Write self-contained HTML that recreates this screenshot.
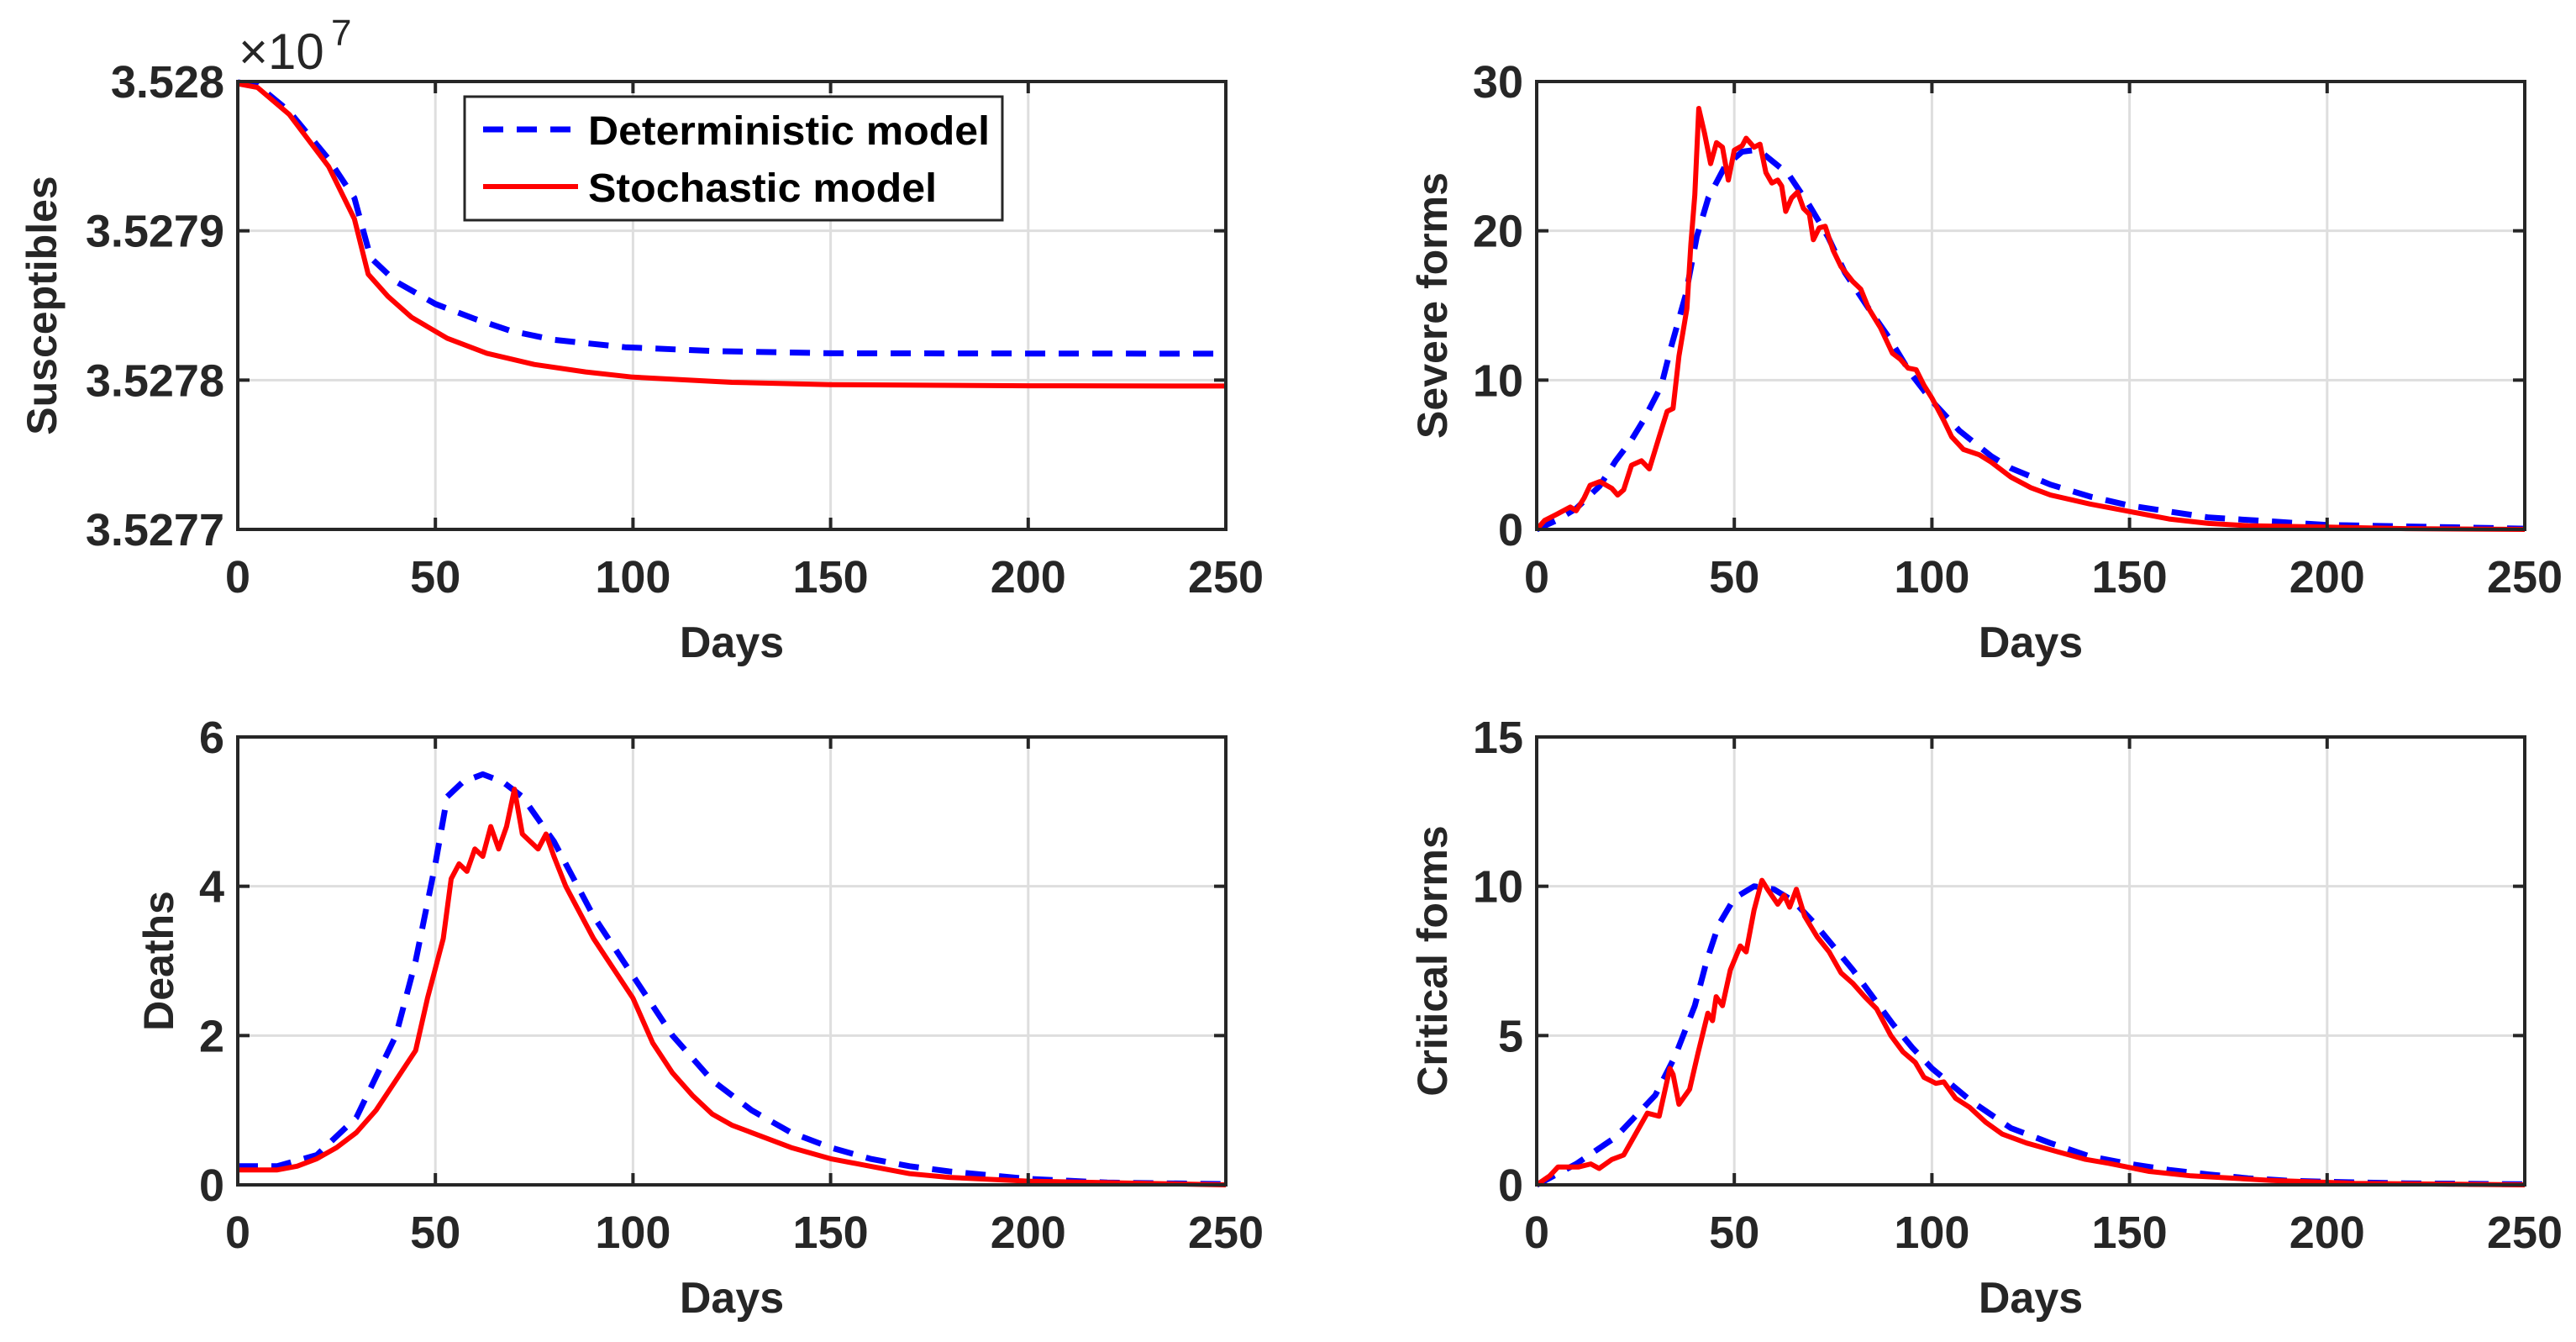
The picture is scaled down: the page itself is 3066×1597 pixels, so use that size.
<!DOCTYPE html>
<html><head><meta charset="utf-8"><style>
html,body{margin:0;padding:0;background:#fff;}
svg{display:block;font-family:"Liberation Sans",Arial,sans-serif;}
</style></head><body>
<svg id="fig" width="3066" height="1597" viewBox="0 0 3066 1597" xmlns="http://www.w3.org/2000/svg"></svg>
<script>
// ---- data ----
const susDetDays = [0,5,13,23,29.5,33.6,40,50,60,69,80,98,120,150,200,250];
const susDetVals = [35279995,35279975,35279800,35279480,35279220,35278820,35278660,35278510,35278410,35278330,35278270,35278220,35278195,35278180,35278178,35278177];
const susStoDays = [0,5,13,23,29.5,33,38,44,53,63,75,88,100,125,150,200,250];
const susStoVals = [35279985,35279960,35279780,35279430,35279080,35278710,35278560,35278420,35278280,35278180,35278105,35278055,35278020,35277985,35277970,35277962,35277960];

const sevDetDays = [0,5,10,15.9,20,24,27,31.5,34,37.7,40.5,43.4,47.6,52,55,57.6,63.7,69,73.7,78,84,89,94.5,100,107,115,120,130,140,150,170,200,250];
const sevDetVals = [0,0.6,1.4,2.9,4.6,6.0,7.3,9.6,12.2,15.7,19.6,22.2,24.3,25.3,25.4,25.1,23.8,21.7,19.6,17.2,14.8,12.9,10.5,8.6,6.6,4.9,4.1,3.0,2.2,1.6,0.8,0.3,0.05];
const sevStoDays = [0,2,5,8.5,10,12,13.5,16,19,20.5,22,24,26.5,28.5,31,33,34.5,36,38,39,40,41,42.5,44,45.5,47,48.5,50,52,53,55,56.5,58,59.5,61,62,63,64.5,66,67.5,69,70,71.5,73,75,77,80,82,84,87,90,92,94,96,98,100,103,105,108,112,115,120,125,130,140,150,160,170,180,200,220,250];
const sevStoVals = [0,0.6,1.0,1.5,1.25,2.1,2.95,3.2,2.75,2.3,2.65,4.3,4.6,4.05,6.2,7.9,8.1,11.6,14.8,19.1,22.4,28.2,26.5,24.5,25.9,25.6,23.4,25.4,25.7,26.2,25.6,25.8,23.9,23.2,23.4,23.0,21.3,22.2,22.6,21.5,21.1,19.4,20.2,20.3,18.7,17.6,16.6,16.1,14.8,13.5,11.8,11.4,10.8,10.7,9.65,8.8,7.3,6.2,5.35,5.0,4.5,3.5,2.8,2.3,1.7,1.2,0.7,0.4,0.25,0.15,0.05,0];

const dthDetDays = [0,10,20,30,40,45,50,53,57,62,67,72,80,90,100,110,120,130,140,150,160,170,180,200,220,250];
const dthDetVals = [0.25,0.25,0.4,0.9,2.0,3.0,4.3,5.2,5.4,5.5,5.4,5.2,4.6,3.6,2.8,2.0,1.4,1.0,0.7,0.5,0.35,0.25,0.18,0.08,0.03,0.01];
const dthStoDays = [0,10,15,20,25,30,35,40,45,48,50,52,54,56,58,60,62,64,66,68,70,72,74,76,78,80,83,86,90,95,100,105,110,115,120,125,130,140,150,160,170,180,200,250];
const dthStoVals = [0.2,0.2,0.25,0.35,0.5,0.7,1.0,1.4,1.8,2.5,2.9,3.3,4.1,4.3,4.2,4.5,4.4,4.8,4.5,4.8,5.3,4.7,4.6,4.5,4.7,4.4,4.0,3.7,3.3,2.9,2.5,1.9,1.5,1.2,0.95,0.8,0.7,0.5,0.35,0.25,0.15,0.1,0.05,0];

const crtDetDays = [0,10,20,30,35,40,43,46,50,55,60,65,70,75,80,85,90,95,100,110,120,130,140,150,160,170,180,190,200,220,250];
const crtDetVals = [0,0.7,1.6,3.0,4.3,6.0,7.5,8.7,9.6,10.0,9.9,9.5,8.8,8.0,7.2,6.3,5.4,4.6,3.9,2.8,1.9,1.4,0.95,0.7,0.5,0.35,0.22,0.14,0.1,0.05,0.02];
const crtStoDays = [0,3.3,5.4,10.6,13.7,15.8,19,22,25,28,31,33.7,34.5,36,38.7,40.8,43.3,44.5,45.4,47,49,51.5,53,55,57,58.4,61,62.6,64,65.7,67.8,71,74,77,80,83,86,89.6,92.7,95.8,98,101,103,106,109.5,113.6,117.8,124,132,138.6,144.8,155,165.6,186,207,250];
const crtStoVals = [0,0.3,0.6,0.6,0.7,0.55,0.85,1.0,1.7,2.4,2.3,3.9,3.7,2.7,3.2,4.4,5.75,5.5,6.3,6.0,7.2,8.0,7.8,9.2,10.2,9.9,9.4,9.7,9.3,9.9,9.0,8.3,7.8,7.1,6.75,6.3,5.9,5.0,4.45,4.1,3.6,3.4,3.45,2.9,2.6,2.1,1.7,1.4,1.1,0.86,0.72,0.45,0.3,0.15,0.05,0];

const xTicks = [0,50,100,150,200,250];
const susTicks = [35277000,35278000,35279000,35280000];
const susTickLabels = ["3.5277","3.5278","3.5279","3.528"];
const sevTicks = [0,10,20,30];
const dthTicks = [0,2,4,6];
const crtTicks = [0,5,10,15];

// ---- drawing ----
const NS = "http://www.w3.org/2000/svg";
const svg = document.getElementById('fig');
function mk(tag, attrs, parent){
  const e = document.createElementNS(NS, tag);
  for (const k in attrs) e.setAttribute(k, attrs[k]);
  (parent||svg).appendChild(e);
  return e;
}
function panel(cfg){
  const g = mk('g', {});
  
  
  const L=cfg.x0, R=cfg.x1, T=cfg.y0, B=cfg.y1;
  const sx = d => L + (d - 0) / 250 * (R - L);
  const sy = v => B - (v - cfg.ymin) / (cfg.ymax - cfg.ymin) * (B - T);
  xTicks.forEach(t => {
    const l = mk('line', {x1:sx(t), x2:sx(t), y1:T, y2:B, stroke:'#dedede', 'stroke-width':3}, g);
    
    
  });
  cfg.ticks.forEach(t => {
    const l = mk('line', {x1:L, x2:R, y1:sy(t), y2:sy(t), stroke:'#dedede', 'stroke-width':3}, g);
    
    
  });
  const series = [
    {d:cfg.detD, v:cfg.detV, color:'#0000ff', w:7, dash:'24 16', name:'deterministic-line'},
    {d:cfg.stoD, v:cfg.stoV, color:'#ff0000', w:6, dash:null, name:'stochastic-line'}
  ];
  series.forEach(s => {
    const pts = s.d.map((d,i) => sx(d).toFixed(1) + ',' + sy(s.v[i]).toFixed(1)).join(' ');
    const a = {points:pts, fill:'none', stroke:s.color, 'stroke-width':s.w, 'stroke-linejoin':'round'};
    if (s.dash) a['stroke-dasharray'] = s.dash;
    const p = mk('polyline', a, g);
    
    
  });
  xTicks.forEach(t => {
    mk('line', {x1:sx(t), x2:sx(t), y1:B, y2:B-14, stroke:'#262626', 'stroke-width':4}, g);
    mk('line', {x1:sx(t), x2:sx(t), y1:T, y2:T+14, stroke:'#262626', 'stroke-width':4}, g);
    const tx = mk('text', {x:sx(t), y:B+75, 'font-size':54, 'font-weight':'bold', fill:'#262626', 'text-anchor':'middle'}, g);
    tx.textContent = String(t);
    
    
  });
  cfg.ticks.forEach((t,i) => {
    mk('line', {x1:L, x2:L+14, y1:sy(t), y2:sy(t), stroke:'#262626', 'stroke-width':4}, g);
    mk('line', {x1:R, x2:R-14, y1:sy(t), y2:sy(t), stroke:'#262626', 'stroke-width':4}, g);
    const tx = mk('text', {x:L-16, y:sy(t)+19, 'font-size':54, 'font-weight':'bold', fill:'#262626', 'text-anchor':'end'}, g);
    tx.textContent = cfg.labels ? cfg.labels[i] : String(t);
    
    
  });
  const box = mk('rect', {x:L, y:T, width:R-L, height:B-T, fill:'none', stroke:'#262626', 'stroke-width':4}, g);
  
  
  const xl = mk('text', {x:(L+R)/2, y:B+152, 'font-size':52, 'font-weight':'bold', fill:'#262626', 'text-anchor':'middle'}, g);
  xl.textContent = 'Days';
  
  
  const yc = (T+B)/2;
  const yl = mk('text', {x:cfg.ytx, y:yc, 'font-size':50, 'font-weight':'bold', fill:'#262626', 'text-anchor':'middle', transform:'rotate(-90 '+cfg.ytx+' '+yc+')'}, g);
  yl.textContent = cfg.ytitle;
  
  
  return {sx, sy};
}

panel({name:'susceptibles-panel', x0:283, x1:1459, y0:97, y1:630, ymin:35277000, ymax:35280000,
  ticks:susTicks, labels:susTickLabels, detD:susDetDays, detV:susDetVals, stoD:susStoDays, stoV:susStoVals,
  ytitle:'Susceptibles', ytx:67});
panel({name:'severe-forms-panel', x0:1829, x1:3005, y0:97, y1:630, ymin:0, ymax:30,
  ticks:sevTicks, detD:sevDetDays, detV:sevDetVals, stoD:sevStoDays, stoV:sevStoVals,
  ytitle:'Severe forms', ytx:1722});
panel({name:'deaths-panel', x0:283, x1:1459, y0:877, y1:1410, ymin:0, ymax:6,
  ticks:dthTicks, detD:dthDetDays, detV:dthDetVals, stoD:dthStoDays, stoV:dthStoVals,
  ytitle:'Deaths', ytx:206});
panel({name:'critical-forms-panel', x0:1829, x1:3005, y0:877, y1:1410, ymin:0, ymax:15,
  ticks:crtTicks, detD:crtDetDays, detV:crtDetVals, stoD:crtStoDays, stoV:crtStoVals,
  ytitle:'Critical forms', ytx:1722});

const ex = mk('text', {x:284, y:82, 'font-size':60, fill:'#262626'});
ex.textContent = '×10';


const ex7 = mk('text', {x:394, y:54, 'font-size':44, fill:'#262626'});
ex7.textContent = '7';



const lg = mk('g', {});


mk('rect', {x:553, y:115, width:640, height:147, fill:'#fff', stroke:'#262626', 'stroke-width':3}, lg);
const l1 = mk('line', {x1:575, x2:688, y1:154, y2:154, stroke:'#0000ff', 'stroke-width':7, 'stroke-dasharray':'24 16'}, lg);


const t1 = mk('text', {x:700, y:172, 'font-size':48, 'font-weight':'bold', fill:'#000', textLength:478, lengthAdjust:'spacingAndGlyphs'}, lg);
t1.textContent = 'Deterministic model';


const l2 = mk('line', {x1:575, x2:688, y1:222, y2:222, stroke:'#ff0000', 'stroke-width':6}, lg);


const t2 = mk('text', {x:700, y:240, 'font-size':48, 'font-weight':'bold', fill:'#000', textLength:415, lengthAdjust:'spacingAndGlyphs'}, lg);
t2.textContent = 'Stochastic model';


</script>
</body></html>
